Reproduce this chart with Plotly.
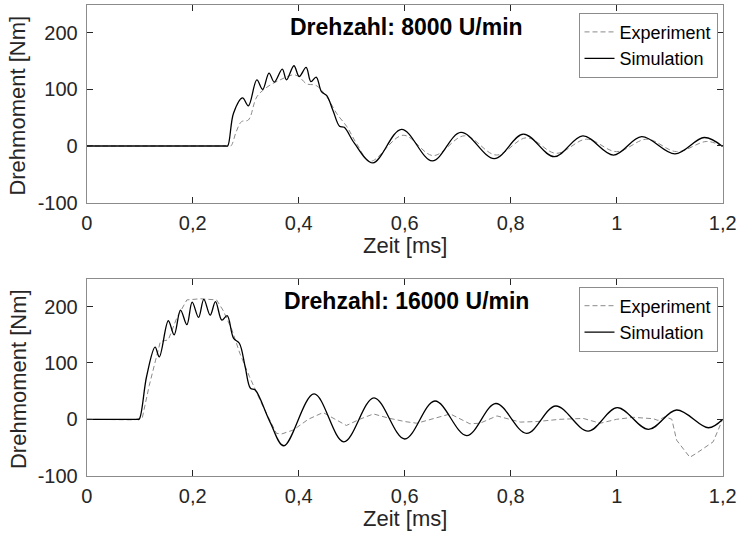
import plotly.graph_objects as go

# ---------------- data ----------------
x_tick_vals = [0, 0.2, 0.4, 0.6, 0.8, 1.0, 1.2]
x_tick_text = ["0", "0,2", "0,4", "0,6", "0,8", "1", "1,2"]
y_tick_vals = [-100, 0, 100, 200]
y_tick_text = ["-100", "0", "100", "200"]

# 8000 U/min (turning points of the curves)
t_sim_8k = [0, 0.1, 0.2, 0.25, 0.262, 0.266, 0.277, 0.294, 0.305, 0.321, 0.332, 0.344,
            0.354, 0.369, 0.377, 0.391, 0.401, 0.414, 0.423, 0.433, 0.443, 0.453,
            0.465, 0.477, 0.486, 0.505, 0.540, 0.594, 0.652, 0.706, 0.769, 0.824,
            0.882, 0.936, 0.994, 1.047, 1.110, 1.165, 1.200]
m_sim_8k = [0, 0, 0, 0, 0, 0, 58, 85, 71, 117, 100, 129,
            113, 136, 117, 142, 123, 139, 114, 122, 96, 89,
            62, 35, 33, 5, -30, 29.5, -26.5, 24, -22.4, 21,
            -19, 18, -16, 16.5, -14, 15, -1]

t_exp_8k = [0, 0.1, 0.2, 0.25, 0.266, 0.272, 0.282, 0.292, 0.305, 0.321, 0.340, 0.365,
            0.391, 0.401, 0.415, 0.433, 0.453, 0.472, 0.491, 0.510, 0.535, 0.597,
            0.654, 0.713, 0.773, 0.830, 0.886, 0.943, 1.000, 1.057, 1.113, 1.170,
            1.200]
m_exp_8k = [0, 0, 0, 0, 0, 0, 25, 43, 46, 87, 104, 117,
            126, 122, 110, 107, 87, 57, 34, 3, -27, 19,
            -17, 18, -16, 14.5, -13, 12, -10, 12, -10, 8,
            -1]

# 16000 U/min
t_sim_16k = [0, 0.05, 0.085, 0.095, 0.099, 0.113, 0.129, 0.137, 0.154, 0.165, 0.177,
             0.189, 0.199, 0.211, 0.221, 0.233, 0.243, 0.255, 0.265, 0.277, 0.288,
             0.299, 0.309, 0.318, 0.346, 0.372, 0.429, 0.485, 0.542, 0.600, 0.657,
             0.717, 0.772, 0.830, 0.885, 0.946, 1.001, 1.060, 1.113, 1.173, 1.200]
m_sim_16k = [0, 0, 0, 0, 0, 76, 128, 111, 175, 150, 194,
             168, 208, 181, 213, 185, 209, 176, 184, 144, 135,
             93, 55, 52, -5, -47, 45, -40, 38, -35, 32.5,
             -29, 28, -25, 23.6, -21, 20.6, -18, 16.5, -15, 0]

t_exp_16k = [0, 0.050, 0.090, 0.105, 0.118, 0.130, 0.139, 0.154, 0.170, 0.189, 0.215,
             0.245, 0.257, 0.274, 0.289, 0.307, 0.330, 0.358, 0.368, 0.390, 0.418,
             0.446, 0.470, 0.490, 0.515, 0.541, 0.570, 0.600, 0.623, 0.655, 0.686,
             0.723, 0.742, 0.774, 0.818, 0.850, 0.893, 0.937, 0.969, 1.000, 1.031,
             1.069, 1.078, 1.091, 1.104, 1.113, 1.138, 1.151, 1.182, 1.200]
m_exp_16k = [0, -1, -1, 3, 60, 105, 138, 141, 180, 212, 214,
             212, 194, 159, 117, 76, 28, -25, -26, -19, 0,
             12, 0, -11, 0, 9.5, 2, -4, -7, 2, 9.5,
             -8, -7, 6, -5, -4, 0, 1.5, -7, 0, 3.5,
             1, -2, 4.6, 0, -37, -67.5, -60, -40, 0]

titles = ["Drehzahl: 8000 U/min", "Drehzahl: 16000 U/min"]
x_label = "Zeit [ms]"
y_label = "Drehmoment [Nm]"

# ---------------- styling ----------------
FONT = "Liberation Sans, Arial, sans-serif"
W, H = 740, 533
TXT = "#262626"
SIM_COLOR = "#000000"
EXP_COLOR = "#8a8a8a"

# plot areas in pixels: (left, right, top, bottom)
areas = [(86.7, 722.7, 4.7, 202.5), (86.7, 722.7, 278.5, 475.6)]


def px_x(px):
    return px / W


def px_y(py):
    return 1 - py / H


fig = go.Figure()

series = [
    (t_exp_8k, m_exp_8k, t_sim_8k, m_sim_8k),
    (t_exp_16k, m_exp_16k, t_sim_16k, m_sim_16k),
]
for i, (te, me, ts, ms) in enumerate(series):
    sfx = "" if i == 0 else str(i + 1)
    legend_name = "legend" + sfx
    fig.add_trace(go.Scatter(
        x=te, y=me, mode="lines", name="Experiment",
        line=dict(color=EXP_COLOR, width=1, dash="5px,3px",
                  shape="spline" if i == 0 else "linear", smoothing=1.0),
        xaxis="x" + sfx, yaxis="y" + sfx, legend=legend_name,
    ))
    fig.add_trace(go.Scatter(
        x=ts, y=ms, mode="lines", name="Simulation",
        line=dict(color=SIM_COLOR, width=1.3, shape="spline", smoothing=1.0),
        xaxis="x" + sfx, yaxis="y" + sfx, legend=legend_name,
    ))

layout = dict(
    width=W, height=H,
    margin=dict(l=0, r=0, t=0, b=0),
    paper_bgcolor="white", plot_bgcolor="white",
    font=dict(family=FONT, color=TXT, size=20),
    showlegend=True,
    annotations=[],
)

for i, (l, r, t, b) in enumerate(areas):
    sfx = "" if i == 0 else str(i + 1)
    common = dict(
        showline=True, linecolor="#8c8c8c", linewidth=1, mirror="ticks",
        ticks="inside", ticklen=6, tickwidth=1, tickcolor=TXT,
        showgrid=False, zeroline=False, automargin=False,
        tickfont=dict(family=FONT, size=20, color=TXT),
    )
    layout["xaxis" + sfx] = dict(
        common, domain=[px_x(l), px_x(r)], range=[0, 1.2],
        tickvals=x_tick_vals, ticktext=x_tick_text,
        anchor="y" + sfx, ticklabelstandoff=2,
    )
    layout["yaxis" + sfx] = dict(
        common, domain=[px_y(b), px_y(t)], range=[-100, 250],
        tickvals=y_tick_vals, ticktext=y_tick_text,
        anchor="x" + sfx, ticklabelstandoff=4,
    )
    layout["legend" + sfx] = dict(
        x=px_x(717.5), y=px_y(t + 8), xanchor="right", yanchor="top",
        bgcolor="white", bordercolor="#8c8c8c", borderwidth=1,
        font=dict(family=FONT, size=18, color="#000000"),
        tracegroupgap=0, itemwidth=30,
    )
    cx = (l + r) / 2
    cy = (t + b) / 2
    layout["annotations"] += [
        dict(text="<b>" + titles[i] + "</b>", x=px_x(cx + 2), y=px_y(t + 22),
             xref="paper", yref="paper", showarrow=False,
             xanchor="center", yanchor="middle",
             font=dict(family=FONT, size=23, color="#000000")),
        dict(text=x_label, x=px_x(cx), y=px_y(b + 43),
             xref="paper", yref="paper", showarrow=False,
             xanchor="center", yanchor="middle",
             font=dict(family=FONT, size=22, color=TXT)),
        dict(text=y_label, x=px_x(18), y=px_y(cy + 2),
             xref="paper", yref="paper", showarrow=False, textangle=-90,
             xanchor="center", yanchor="middle",
             font=dict(family=FONT, size=22, color=TXT)),
    ]

fig.update_layout(**layout)
fig.write_html("out.html")
